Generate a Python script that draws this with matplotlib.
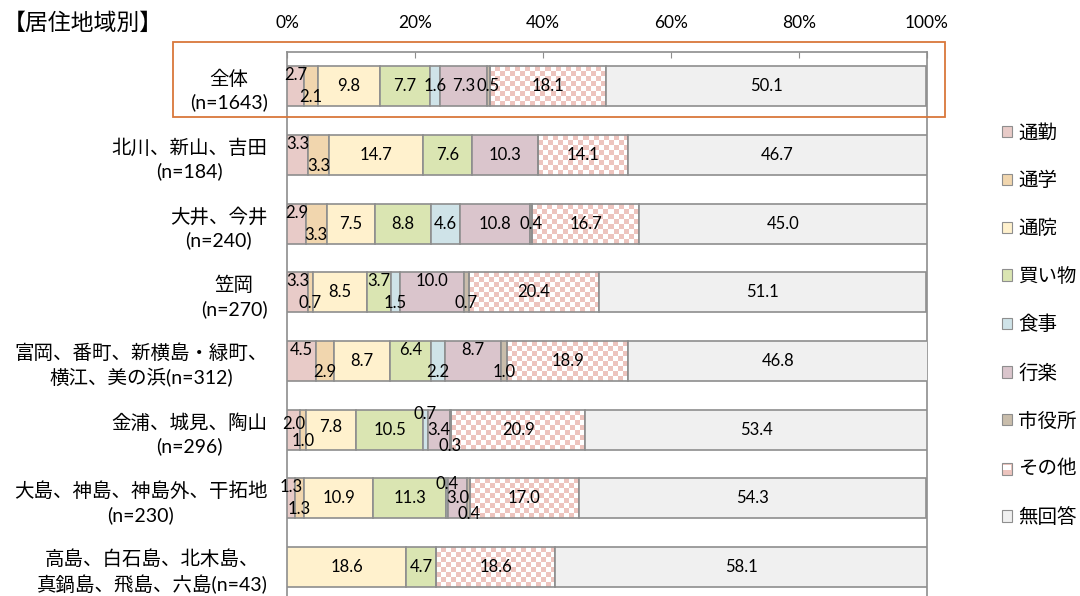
import numpy as np
import matplotlib
matplotlib.use("Agg")
import matplotlib.pyplot as plt
from matplotlib.patches import Rectangle
from matplotlib.legend_handler import HandlerBase

# Lato for latin/digits (close to Calibri), Noto CJK for Japanese glyphs
plt.rcParams['font.family'] = ['Lato', 'Noto Sans CJK JP', 'DejaVu Sans']

# ---- data ----
regions = [
    "全体\n(n=1643)",
    "北川、新山、吉田\n(n=184)",
    "大井、今井\n(n=240)",
    "笠岡\n(n=270)",
    "富岡、番町、新横島・緑町、\n横江、美の浜(n=312)",
    "金浦、城見、陶山\n(n=296)",
    "大島、神島、神島外、干拓地\n(n=230)",
    "高島、白石島、北木島、\n真鍋島、飛島、六島(n=43)",
]
purposes = ["通勤", "通学", "通院", "買い物", "食事", "行楽", "市役所", "その他", "無回答"]

tsukin   = [2.7, 3.3, 2.9, 3.3, 4.5, 2.0, 1.3, 0.0]
tsugaku  = [2.1, 3.3, 3.3, 0.7, 2.9, 1.0, 1.3, 0.0]
tsuin    = [9.8, 14.7, 7.5, 8.5, 8.7, 7.8, 10.9, 18.6]
kaimono  = [7.7, 7.6, 8.8, 3.7, 6.4, 10.5, 11.3, 4.7]
shokuji  = [1.6, 0.0, 4.6, 1.5, 2.2, 0.7, 0.4, 0.0]
kouraku  = [7.3, 10.3, 10.8, 10.0, 8.7, 3.4, 3.0, 0.0]
shiyakusho = [0.5, 0.0, 0.4, 0.7, 1.0, 0.3, 0.4, 0.0]
sonota   = [18.1, 14.1, 16.7, 20.4, 18.9, 20.9, 17.0, 18.6]
mukaitou = [50.1, 46.7, 45.0, 51.1, 46.8, 53.4, 54.3, 58.1]

series = [tsukin, tsugaku, tsuin, kaimono, shokuji, kouraku, shiyakusho, sonota, mukaitou]

# ---- style ----
colors = ["#E8CBC8", "#F1D6AE", "#FFF1CD", "#DAE5B2", "#CFE3E8",
          "#DAC5CC", "#C9BDAB", "#EDC4BE", "#F0F0F0"]
edge = "#8E8E8E"
# vertical nudges (points) of value labels, like Excel's overlapping-label layout
nudge = {
    (0, 0): 8, (0, 1): -8,
    (1, 0): 8, (1, 1): -8,
    (2, 0): 8, (2, 1): -8,
    (3, 0): 8, (3, 1): -8, (3, 3): 8, (3, 4): -8, (3, 5): 8, (3, 6): -8,
    (4, 0): 8, (4, 1): -8, (4, 3): 8, (4, 4): -8, (4, 5): 8, (4, 6): -8,
    (5, 0): 4, (5, 1): -8, (5, 2): 2, (5, 4): 11, (5, 6): -12,
    (6, 0): 8, (6, 1): -8, (6, 4): 10, (6, 6): -11,
}

fig = plt.figure(figsize=(10.8, 5.96), dpi=100)
ax = fig.add_axes([287 / 1080, (596 - 601.4) / 596, 640 / 1080, 549.4 / 596])

y = np.arange(len(regions))
bar_h = 0.58
left = np.zeros(len(regions))
cell_x = 5 / 6.4  # ~5px checker cell in % units
for k, vals in enumerate(series):
    vals = np.array(vals)
    if purposes[k] == "その他":
        ax.barh(y, vals, left=left, height=bar_h, color="white", edgecolor="none", zorder=2)
        for i, v in enumerate(vals):
            if v <= 0:
                continue
            nx = max(1, int(round(v / cell_x)))
            ny = 8
            chk = (np.add.outer(np.arange(ny), np.arange(nx)) % 2).astype(float)
            rgb = np.where(chk[..., None] > 0,
                           np.array(matplotlib.colors.to_rgb(colors[k])),
                           np.array([1.0, 1.0, 1.0]))
            ax.imshow(rgb, extent=(left[i], left[i] + v, y[i] + bar_h / 2, y[i] - bar_h / 2),
                      aspect="auto", interpolation="nearest", zorder=2.5)
        ax.barh(y, vals, left=left, height=bar_h, color="none", edgecolor=edge,
                linewidth=1.2, zorder=3)
    else:
        ax.barh(y, vals, left=left, height=bar_h, color=colors[k], edgecolor=edge,
                linewidth=1.2, zorder=3)
    for i, v in enumerate(vals):
        if v <= 0:
            continue
        ax.annotate(f"{v:.1f}", (left[i] + v / 2, y[i]), xytext=(0, nudge.get((i, k), 0)),
                    textcoords="offset points", ha="center", va="center",
                    fontsize=12, color="black", zorder=5)
    left = left + vals

ax.set_xlim(0, 100)
ax.set_ylim(len(regions) - 0.5, -0.5)
ax.xaxis.tick_top()
ax.set_xticks(np.arange(0, 101, 20))
ax.set_xticklabels([f"{t}%" for t in range(0, 101, 20)], fontsize=12.5)
ax.tick_params(axis="x", direction="in", length=4, color=edge, pad=15)
ax.set_yticks(y)
ax.set_yticklabels(regions, fontsize=14, multialignment="center", linespacing=1.38)
ax.tick_params(axis="y", length=0, pad=14)
for s in ("top", "left", "right"):
    ax.spines[s].set_color(edge)
    ax.spines[s].set_linewidth(1.2)
ax.spines["bottom"].set_visible(False)

fig.text(3 / 1080, 1 - 23 / 596, "【居住地域別】", fontsize=16.5, ha="left", va="center")

# orange highlight round the total row
fig.patches.append(Rectangle((173 / 1080, 1 - 117 / 596), 772 / 1080, 75 / 596,
                             transform=fig.transFigure, fill=False,
                             edgecolor="#D9773A", linewidth=1.3))


class CheckerHandler(HandlerBase):
    def create_artists(self, legend, orig, xd, yd, w, h, fontsize, trans):
        base = Rectangle((xd, yd), w, h, facecolor=colors[7], edgecolor=edge,
                         linewidth=0.8, transform=trans)
        top = Rectangle((xd + w * 0.15, yd + h * 0.4), w * 0.7, h * 0.45, facecolor="white",
                        edgecolor="none", transform=trans)
        return [base, top]


handles = [Rectangle((0, 0), 1, 1, facecolor=c, edgecolor=edge, linewidth=0.8) for c in colors]
hmap = {handles[7]: CheckerHandler()}
fig.legend(handles, purposes, loc="upper left", bbox_to_anchor=(984 / 1080, 1 - 106 / 596),
           frameon=False, fontsize=14, handlelength=0.55, handleheight=0.55,
           handletextpad=0.3, labelspacing=1.53, handler_map=hmap)

fig.savefig("out.png", dpi=100)
